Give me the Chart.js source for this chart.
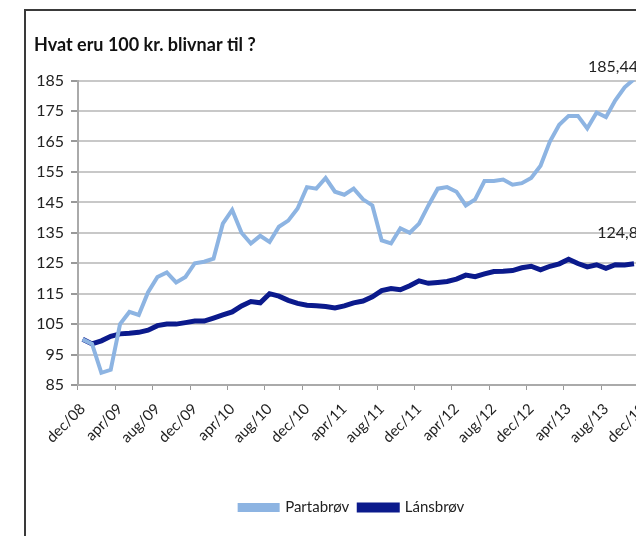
<!DOCTYPE html>
<html>
<head>
<meta charset="utf-8">
<script src="https://cdn.jsdelivr.net/npm/chart.js@4.4.1/dist/chart.umd.min.js"></script>
<style>
  html, body { margin: 0; padding: 0; background: #fff; overflow: hidden; }
  #frame {
    position: absolute; left: 24px; top: 9px;
    width: 652px; height: 540px;
    border-top: 2px solid #3a3a3a; border-left: 2px solid #3a3a3a;
  }
</style>
</head>
<body>
<div id="frame"><canvas id="chart" width="652" height="540"></canvas></div>
<script>
// months dec/08 .. dec/13
const months = ['jan', 'feb', 'mar', 'apr', 'mai', 'jun', 'jul', 'aug', 'sep', 'okt', 'nov', 'dec'];
const labels = ['dec/08'];
for (let y = 9; y <= 13; y++) {
  months.forEach(m => labels.push(m + '/' + String(y).padStart(2, '0')));
}

const partabrov = [
  100, 98.5, 89, 90, 105, 109, 108, 115.5, 120.5, 122, 118.7, 120.5,
  125, 125.5, 126.5, 138, 142.5, 135, 131.5, 134, 132, 137, 139, 143,
  150, 149.5, 153, 148.5, 147.5, 149.5, 146, 144, 132.5, 131.5, 136.5, 135,
  138, 144, 149.5, 150, 148.5, 144, 146, 152, 152, 152.5, 150.8, 151.3,
  153, 157, 165, 170.5, 173.4, 173.4, 169.3, 174.5, 173, 178.5, 182.8, 185.44
];

const lansbrov = [
  100, 98.5, 99.5, 101, 101.8, 102, 102.3, 103, 104.5, 105, 105, 105.5,
  106, 106, 107, 108, 109, 111, 112.4, 112, 115, 114.2, 112.8, 111.8,
  111.2, 111, 110.8, 110.3, 111, 112, 112.6, 114, 116, 116.7, 116.3, 117.6,
  119.2, 118.4, 118.7, 119, 119.8, 121.1, 120.6, 121.5, 122.3, 122.4, 122.6, 123.5,
  124, 122.8, 124, 124.8, 126.3, 124.9, 123.8, 124.5, 123.3, 124.5, 124.4, 124.8
];

const lastLabels = ['185,44', '124,8'];

const font = 'Lato, "Liberation Sans", sans-serif';
Chart.defaults.font.family = font;
Chart.defaults.color = '#222';

// value label at the end of each line
const endLabels = {
  id: 'endLabels',
  afterDatasetsDraw(chart) {
    const ctx = chart.ctx;
    const shift = [[4, -4], [4, -23]];
    ctx.save();
    ctx.font = '16px ' + font;
    ctx.fillStyle = '#222';
    ctx.textAlign = 'right';
    ctx.textBaseline = 'bottom';
    chart.data.datasets.forEach((ds, i) => {
      const pts = chart.getDatasetMeta(i).data;
      const p = pts[pts.length - 1];
      ctx.fillText(lastLabels[i], p.x + shift[i][0], p.y + shift[i][1]);
    });
    ctx.restore();
  }
};

// nudge the legend a little to the right, like the original
const legendShift = {
  id: 'legendShift',
  afterLayout(chart) {
    chart.legend.left += 11;
    chart.legend.right += 11;
  }
};

const ctx = document.getElementById('chart').getContext('2d');
new Chart(ctx, {
  type: 'line',
  data: {
    labels: labels,
    datasets: [{
      label: 'Partabrøv',
      data: partabrov,
      borderColor: '#8db4e2',
      backgroundColor: '#8db4e2',
      borderWidth: 4,
      pointRadius: 0,
      tension: 0
    }, {
      label: 'Lánsbrøv',
      data: lansbrov,
      borderColor: '#0b1a8c',
      backgroundColor: '#0b1a8c',
      borderWidth: 5,
      pointRadius: 0,
      tension: 0
    }]
  },
  options: {
    responsive: false,
    animation: false,
    layout: { padding: { left: 8, right: 30, top: 0, bottom: 26 } },
    plugins: {
      title: {
        display: true,
        text: 'Hvat eru 100 kr. blivnar til ?',
        align: 'start',
        color: '#111',
        font: { size: 18, weight: 'bold' },
        padding: { top: 23, bottom: 25 }
      },
      legend: {
        position: 'bottom',
        labels: { boxWidth: 38, boxHeight: 5, font: { size: 15 }, padding: 10, color: '#222' }
      },
      tooltip: { enabled: false }
    },
    scales: {
      x: {
        offset: true,
        grid: {
          offset: true,
          drawOnChartArea: false,
          tickLength: 5,
          color: c => (c.index !== undefined && c.index % 4 === 0) ? '#999' : 'rgba(0,0,0,0)'
        },
        border: { color: '#aaa', width: 2 },
        ticks: {
          autoSkip: false,
          maxRotation: 45,
          minRotation: 45,
          padding: 10,
          font: { size: 15 },
          color: '#222',
          callback: function (v, i) { return i % 4 === 0 ? this.getLabelForValue(v) : ''; }
        },
        afterFit: s => { s.height = 105; }
      },
      y: {
        min: 85,
        max: 185,
        grid: { color: '#c8c8c8', lineWidth: 2, tickLength: 7, tickColor: '#999' },
        border: { color: '#aaa', width: 2 },
        ticks: { stepSize: 10, padding: 7, font: { size: 16 }, color: '#222' },
        afterFit: s => { s.width = 44; }
      }
    }
  },
  plugins: [endLabels, legendShift]
});
</script>
</body>
</html>
